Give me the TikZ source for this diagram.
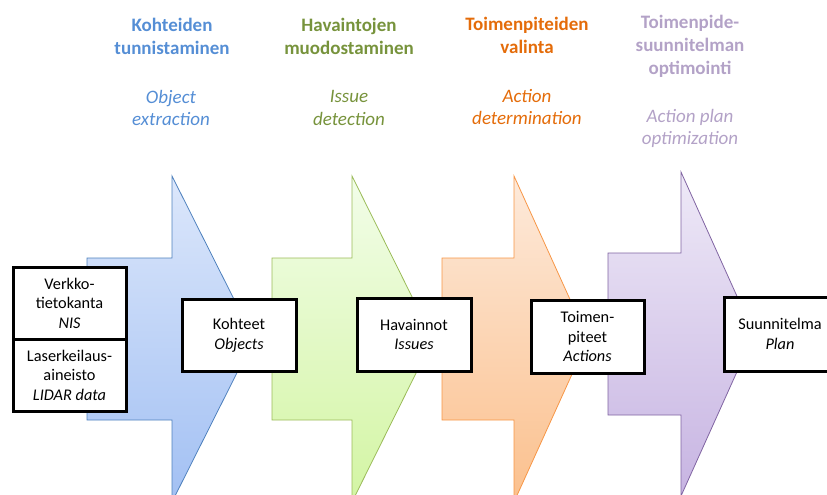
\documentclass[tikz,border=0pt]{standalone}
\usepackage{fontspec}
\setmainfont{Carlito}
\definecolor{bluetxt}{HTML}{558ED5}
\definecolor{greentxt}{HTML}{77933C}
\definecolor{orangetxt}{HTML}{E46C0A}
\definecolor{purpletxt}{HTML}{B3A2C7}
\definecolor{blueA}{HTML}{DCE7FB}\definecolor{blueB}{HTML}{A2C0F3}\definecolor{blueD}{HTML}{4F81BD}
\definecolor{greenA}{HTML}{F2FDE9}\definecolor{greenB}{HTML}{D3F5A3}\definecolor{greenD}{HTML}{9BBB59}
\definecolor{orangeA}{HTML}{FDEADB}\definecolor{orangeB}{HTML}{FBC08D}\definecolor{orangeD}{HTML}{F79646}
\definecolor{purpleA}{HTML}{EEE9F7}\definecolor{purpleB}{HTML}{C7B4E2}\definecolor{purpleD}{HTML}{8064A2}
\tikzset{
  stagearrow/.style={line width=0.8pt, line join=miter},
  databox/.style={draw=black, line width=3pt, fill=white, align=center, inner sep=2pt,
    font=\fontsize{16.3}{19.5}\selectfont},
  headtxt/.style={align=center, font=\fontsize{19}{23}\selectfont\bfseries},
  subtxt/.style={align=center, font=\fontsize{19}{22.5}\selectfont\itshape}
}
\begin{document}
\begin{tikzpicture}[x=1pt,y=-1pt]
\useasboundingbox (0,0) rectangle (827,495);
\clip (0,0) rectangle (827,495);
% arrows
\shadedraw[stagearrow, top color=blueA, bottom color=blueB, draw=blueD]
  (87,258) -- (172,258) -- (172,176) -- (254,339) -- (172,502) -- (172,420) -- (87,420) -- cycle;
\shadedraw[stagearrow, top color=greenA, bottom color=greenB, draw=greenD]
  (272,258) -- (352,258) -- (352,176) -- (433,339) -- (352,502) -- (352,420) -- (272,420) -- cycle;
\shadedraw[stagearrow, top color=orangeA, bottom color=orangeB, draw=orangeD]
  (442,258) -- (514,258) -- (514,176) -- (588,339) -- (514,502) -- (514,420) -- (442,420) -- cycle;
\shadedraw[stagearrow, top color=purpleA, bottom color=purpleB, draw=purpleD]
  (608,253) -- (681,253) -- (681,172) -- (754,334) -- (681,496) -- (681,415) -- (608,415) -- cycle;
% boxes
\node[databox, minimum width=113pt, minimum height=72pt] (nis) at (69.5,303) {Verkko-\\tietokanta\\\textit{NIS}};
\node[databox, minimum width=113pt, minimum height=72pt] (lidar) at (69.5,375) {Laserkeilaus-\\aineisto\\\textit{LIDAR data}};
\node[databox, minimum width=114pt, minimum height=72pt] (objects) at (239,335) {Kohteet\\\textit{Objects}};
\node[databox, minimum width=114pt, minimum height=73pt] (issues) at (414,334.5) {Havainnot\\\textit{Issues}};
\node[databox, minimum width=113pt, minimum height=73pt] (actions) at (587.5,336.5) {Toimen-\\piteet\\\textit{Actions}};
\node[databox, minimum width=112pt, minimum height=74pt] (plan) at (780,334) {Suunnitelma\\\textit{Plan}};
% headings
\node[headtxt, text=bluetxt] (h1) at (172,36.5) {Kohteiden\\tunnistaminen};
\node[subtxt, text=bluetxt] (s1) at (171,108) {Object\\extraction};
\node[headtxt, text=greentxt] (h2) at (349,36.5) {Havaintojen\\muodostaminen};
\node[subtxt, text=greentxt] (s2) at (349,108) {Issue\\detection};
\node[headtxt, text=orangetxt] (h3) at (527,35) {Toimenpiteiden\\valinta};
\node[subtxt, text=orangetxt] (s3) at (527,107) {Action\\determination};
\node[headtxt, text=purpletxt] (h4) at (690,46) {Toimenpide-\\suunnitelman\\optimointi};
\node[subtxt, text=purpletxt] (s4) at (690,128.5) {Action plan\\optimization};
\end{tikzpicture}
\end{document}
